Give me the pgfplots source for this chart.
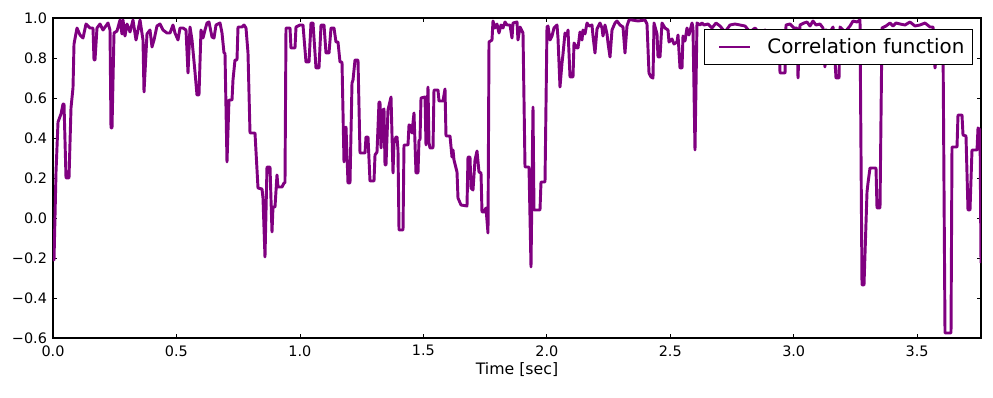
\documentclass[border=0pt]{standalone}
\usepackage{pgfplots}
\pgfplotsset{compat=1.18}
\usepackage{fontspec}
\setmainfont{DejaVu Sans}
\definecolor{mplpurple}{RGB}{128,0,128}
\begin{document}
\begin{tikzpicture}
\begin{axis}[
  scale only axis,
  width=696pt, height=240pt,
  xmin=0, xmax=3.7586, ymin=-0.6, ymax=1.0,
  xtick={0,0.5,1,1.5,2,2.5,3,3.5},
  xticklabels={0.0,0.5,1.0,1.5,2.0,2.5,3.0,3.5},
  ytick={-0.6,-0.4,-0.2,0,0.2,0.4,0.6,0.8,1.0},
  yticklabels={−0.6,−0.4,−0.2,0.0,0.2,0.4,0.6,0.8,1.0},
  tick align=inside,
  major tick length=3.3pt,
  tick style={black, line width=0.6pt},
  axis line style={line width=0.8pt},
  ticklabel style={font=\fontsize{10.8}{13}\selectfont},
  xticklabel style={yshift=-2pt},
  yticklabel style={xshift=-1pt},
  xlabel={Time [sec]},
  xlabel style={font=\fontsize{11.8}{14}\selectfont, yshift=2pt},
  legend style={at={(axis description cs:1,1)}, anchor=north east, xshift=-6pt, yshift=-8.25pt,
    draw=black, line width=0.6pt, font=\fontsize{14.9}{17}\selectfont,
    inner xsep=5.1pt, inner ysep=5.8pt, nodes={inner sep=1pt}},
  legend image code/.code={\path (0pt,0pt); \draw[#1] (5pt,0pt) -- (28pt,0pt);},
  legend cell align=left,
]
\coordinate (bl) at (rel axis cs:0,0);
\coordinate (tr) at (rel axis cs:1,1);
\addplot[mplpurple, line width=2.2pt, line join=round] table {
0.0000 -0.21
0.0041 -0.21
0.0122 0.23
0.0203 0.48
0.0324 0.52
0.0405 0.57
0.0446 0.57
0.0527 0.20
0.0648 0.20
0.0729 0.55
0.0810 0.65
0.0851 0.87
0.0972 0.95
0.1094 0.915
0.1215 0.90
0.1337 0.97
0.1499 0.95
0.1620 0.95
0.1661 0.79
0.1701 0.79
0.1782 0.95
0.1904 0.97
0.2025 0.94
0.2228 0.975
0.2309 0.94
0.2349 0.45
0.2390 0.45
0.2471 0.925
0.2592 0.935
0.2714 0.99
0.2795 0.92
0.2835 0.99
0.2916 0.91
0.2997 0.97
0.3119 0.93
0.3240 0.99
0.3362 0.89
0.3443 0.94
0.3524 0.99
0.3645 0.89
0.3686 0.63
0.3807 0.92
0.3929 0.94
0.4010 0.855
0.4091 0.89
0.4212 0.96
0.4334 0.97
0.4455 0.94
0.4617 0.925
0.4739 0.925
0.4860 0.965
0.4941 0.925
0.5063 0.89
0.5144 0.95
0.5265 0.95
0.5387 0.94
0.5468 0.725
0.5549 0.955
0.5630 0.89
0.5751 0.73
0.5832 0.615
0.5913 0.615
0.5994 0.94
0.6075 0.90
0.6156 0.94
0.6237 0.975
0.6318 0.98
0.6440 0.905
0.6521 0.90
0.6602 0.965
0.6764 0.975
0.6845 0.925
0.6926 0.825
0.6966 0.825
0.7047 0.28
0.7128 0.59
0.7250 0.59
0.7290 0.69
0.7371 0.79
0.7452 0.79
0.7493 0.955
0.7655 0.955
0.7736 0.965
0.7817 0.95
0.7898 0.825
0.7979 0.425
0.8181 0.425
0.8303 0.15
0.8465 0.145
0.8505 0.10
0.8586 -0.195
0.8667 0.255
0.8789 0.255
0.8870 -0.07
0.8910 0.055
0.8991 0.055
0.9072 0.215
0.9113 0.155
0.9275 0.155
0.9356 0.175
0.9396 0.175
0.9437 0.95
0.9599 0.95
0.9639 0.85
0.9801 0.85
0.9842 0.955
1.0004 0.965
1.0125 0.965
1.0247 0.78
1.0369 0.78
1.0450 0.975
1.0531 0.975
1.0652 0.75
1.0773 0.75
1.0855 0.965
1.0976 0.965
1.1057 0.825
1.1179 0.825
1.1260 0.95
1.1381 0.95
1.1462 0.88
1.1543 0.88
1.1624 0.78
1.1705 0.78
1.1786 0.28
1.1867 0.455
1.1948 0.175
1.2029 0.175
1.2110 0.675
1.2151 0.69
1.2232 0.79
1.2353 0.79
1.2434 0.325
1.2637 0.325
1.2677 0.405
1.2758 0.405
1.2839 0.185
1.3001 0.185
1.3042 0.315
1.3123 0.33
1.3204 0.58
1.3244 0.58
1.3285 0.35
1.3366 0.54
1.3406 0.545
1.3447 0.265
1.3487 0.265
1.3568 0.54
1.3690 0.605
1.3771 0.225
1.3811 0.375
1.3892 0.405
1.3933 0.405
1.3973 0.34
1.4014 -0.06
1.4176 -0.06
1.4216 0.365
1.4378 0.365
1.4419 0.465
1.4500 0.46
1.4540 0.425
1.4621 0.525
1.4702 0.225
1.4783 0.225
1.4824 0.39
1.4864 0.39
1.4905 0.60
1.5067 0.605
1.5107 0.365
1.5188 0.655
1.5229 0.375
1.5269 0.35
1.5391 0.35
1.5431 0.64
1.5593 0.64
1.5634 0.585
1.5796 0.585
1.5877 0.645
1.5917 0.41
1.6079 0.41
1.6160 0.305
1.6201 0.34
1.6241 0.29
1.6363 0.23
1.6403 0.10
1.6525 0.065
1.6768 0.06
1.6808 0.305
1.6889 0.305
1.6930 0.15
1.7011 0.14
1.7092 0.29
1.7173 0.335
1.7254 0.23
1.7335 0.225
1.7375 0.03
1.7456 0.03
1.7537 0.05
1.7618 -0.075
1.7659 0.88
1.7780 0.89
1.7821 0.985
1.7902 0.95
1.7983 0.97
1.8064 0.925
1.8145 0.965
1.8226 0.95
1.8307 0.98
1.8388 0.965
1.8509 0.965
1.8590 0.90
1.8631 0.975
1.8793 0.98
1.8833 0.89
1.8914 0.955
1.9036 0.925
1.9117 0.255
1.9279 0.255
1.9360 -0.245
1.9441 0.555
1.9481 0.04
1.9724 0.04
1.9765 0.18
1.9927 0.18
2.0008 0.955
2.0048 0.96
2.0129 0.89
2.0210 0.91
2.0291 0.95
2.0413 0.965
2.0453 0.90
2.0534 0.655
2.0616 0.775
2.0656 0.82
2.0737 0.925
2.0818 0.91
2.0859 0.94
2.0940 0.705
2.1061 0.705
2.1102 0.875
2.1223 0.85
2.1263 0.85
2.1344 0.93
2.1425 0.89
2.1466 0.94
2.1547 0.92
2.1628 0.975
2.1709 0.96
2.1830 0.965
2.1871 0.91
2.1952 0.825
2.2033 0.945
2.2155 0.975
2.2236 0.95
2.2276 0.91
2.2357 0.965
2.2438 0.92
2.2479 0.875
2.2560 0.805
2.2641 0.94
2.2762 0.975
2.2843 0.985
2.2965 0.965
2.3086 0.955
2.3167 0.825
2.3248 0.96
2.3329 0.99
2.3451 0.99
2.3694 0.985
2.3977 0.99
2.4058 0.97
2.4139 0.725
2.4220 0.705
2.4301 0.70
2.4342 0.975
2.4463 0.92
2.4504 0.805
2.4585 0.805
2.4666 0.975
2.4787 0.95
2.4909 0.94
2.4949 0.88
2.5071 0.895
2.5152 0.87
2.5273 0.88
2.5314 0.915
2.5395 0.75
2.5476 0.75
2.5516 0.91
2.5597 0.885
2.5678 0.95
2.5759 0.915
2.5881 0.975
2.5921 0.95
2.6002 0.34
2.6083 0.975
2.6205 0.965
2.6286 0.975
2.6367 0.965
2.6529 0.97
2.6691 0.95
2.6853 0.975
2.7015 0.96
2.7218 0.93
2.7420 0.965
2.7623 0.97
2.7825 0.965
2.8028 0.96
2.8230 0.93
2.8433 0.95
2.8635 0.92
2.8838 0.94
2.9040 0.90
2.9243 0.93
2.9405 0.92
2.9445 0.725
2.9648 0.725
2.9688 0.965
2.9850 0.97
3.0012 0.95
3.0133 0.95
3.0174 0.70
3.0255 0.965
3.0417 0.975
3.0538 0.98
3.0660 0.96
3.0781 0.985
3.0903 0.965
3.1065 0.97
3.1186 0.95
3.1267 0.755
3.1308 0.94
3.1470 0.93
3.1592 0.955
3.1713 0.70
3.1835 0.70
3.1875 0.955
3.2077 0.93
3.2280 0.96
3.2402 0.985
3.2564 0.98
3.2685 0.99
3.2766 -0.335
3.2847 -0.335
3.2969 0.13
3.3009 0.175
3.3090 0.25
3.3333 0.25
3.3374 0.05
3.3495 0.05
3.3576 0.95
3.3738 0.96
3.3900 0.975
3.4022 0.96
3.4143 0.975
3.4305 0.97
3.4508 0.965
3.4710 0.98
3.4913 0.96
3.5115 0.965
3.5318 0.975
3.5520 0.955
3.5642 0.955
3.5723 0.75
3.5804 0.85
3.5925 0.92
3.6047 0.875
3.6128 -0.575
3.6371 -0.575
3.6411 0.355
3.6614 0.355
3.6654 0.515
3.6816 0.515
3.6857 0.415
3.6978 0.41
3.7059 0.04
3.7140 0.04
3.7221 0.34
3.7424 0.34
3.7465 0.45
3.7546 0.44
3.7586 -0.225
};
\addlegendentry{\hspace{11pt}Correlation function}
\end{axis}
\pgfresetboundingbox
\path ([shift={(-39.75pt,-44.25pt)}]bl) rectangle ([shift={(9pt,13.5pt)}]tr);
\end{tikzpicture}
\end{document}
